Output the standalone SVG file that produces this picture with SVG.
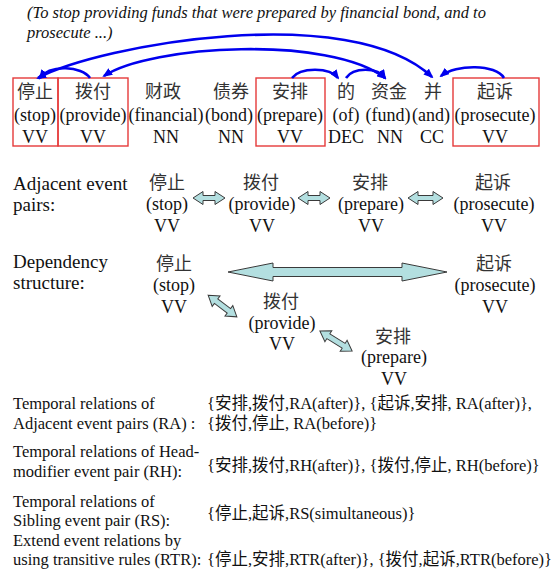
<svg xmlns="http://www.w3.org/2000/svg" width="558" height="572" viewBox="0 0 558 572">
<defs>
<style>
text{font-family:"Liberation Serif","Noto Sans CJK SC",serif;fill:#111}
.tk{font-size:18px;text-anchor:middle}
.zh{font-size:18px;text-anchor:middle;fill:#333}
.lb{font-size:19px}
.sm{font-size:16.5px}
.it{font-size:16.5px;font-style:italic}
.box{fill:none;stroke:#e53a3a;stroke-width:1.4}
.arc{fill:none;stroke:#0000ee;stroke-width:2.6}
.blk{fill:#b3dfe0;stroke:#3a3a3a;stroke-width:1}
</style>
<marker id="ah" viewBox="0 0 10 8" refX="8" refY="4" markerWidth="10" markerHeight="8" markerUnits="userSpaceOnUse" orient="auto-start-reverse">
<path d="M0,0 L10,4 L0,8 z" fill="#0000ee"/>
</marker>
</defs>
<rect width="558" height="572" fill="#fff"/>

<g id="caption">
<text class="it" x="27" y="18">(To stop providing funds that were prepared by financial bond, and to</text>
<text class="it" x="27" y="38">prosecute ...)</text>
</g>

<g id="sentence">
<g id="t-stop"><rect class="box" x="13" y="78" width="45" height="68"/><text class="zh" x="35" y="98">停止</text><text class="tk" x="35" y="121">(stop)</text><text class="tk" x="35" y="143">VV</text></g>
<g id="t-provide"><rect class="box" x="58" y="78" width="70" height="68"/><text class="zh" x="93" y="98">拨付</text><text class="tk" x="93" y="121">(provide)</text><text class="tk" x="93" y="143">VV</text></g>
<g id="t-financial"><text class="zh" x="163" y="98">财政</text><text class="tk" x="166" y="121">(financial)</text><text class="tk" x="166" y="143">NN</text></g>
<g id="t-bond"><text class="zh" x="231" y="98">债券</text><text class="tk" x="229" y="121">(bond)</text><text class="tk" x="231" y="143">NN</text></g>
<g id="t-prepare"><rect class="box" x="256" y="78" width="69" height="68"/><text class="zh" x="290" y="98">安排</text><text class="tk" x="290" y="121">(prepare)</text><text class="tk" x="290" y="143">VV</text></g>
<g id="t-of"><text class="zh" x="346" y="98">的</text><text class="tk" x="346" y="121">(of)</text><text class="tk" x="346" y="143">DEC</text></g>
<g id="t-fund"><text class="zh" x="389" y="98">资金</text><text class="tk" x="388" y="121">(fund)</text><text class="tk" x="390" y="143">NN</text></g>
<g id="t-and"><text class="zh" x="433" y="98">并</text><text class="tk" x="431" y="121">(and)</text><text class="tk" x="432" y="143">CC</text></g>
<g id="t-prosecute"><rect class="box" x="453" y="78" width="86" height="68"/><text class="zh" x="495" y="98">起诉</text><text class="tk" x="495" y="121">(prosecute)</text><text class="tk" x="495" y="143">VV</text></g>
</g>

<g id="labels">
<text class="lb" x="13" y="190">Adjacent event</text>
<text class="lb" x="13" y="211">pairs:</text>
<text class="lb" x="13" y="268">Dependency</text>
<text class="lb" x="13" y="289">structure:</text>
</g>

<g id="adjacent">
<g id="a-stop"><text class="zh" x="167" y="189">停止</text><text class="tk" x="167" y="210">(stop)</text><text class="tk" x="167" y="232">VV</text></g>
<g id="a-provide"><text class="zh" x="261" y="189">拨付</text><text class="tk" x="262" y="210">(provide)</text><text class="tk" x="262" y="232">VV</text></g>
<g id="a-prepare"><text class="zh" x="370" y="189">安排</text><text class="tk" x="371" y="210">(prepare)</text><text class="tk" x="371" y="232">VV</text></g>
<g id="a-prosecute"><text class="zh" x="493" y="189">起诉</text><text class="tk" x="494" y="210">(prosecute)</text><text class="tk" x="494" y="232">VV</text></g>
</g>

<g id="dependency">
<g id="d-stop"><text class="zh" x="174" y="270">停止</text><text class="tk" x="174" y="291">(stop)</text><text class="tk" x="174" y="313">VV</text></g>
<g id="d-prosecute"><text class="zh" x="494" y="270">起诉</text><text class="tk" x="495" y="291">(prosecute)</text><text class="tk" x="495" y="313">VV</text></g>
<g id="d-provide"><text class="zh" x="281" y="308">拨付</text><text class="tk" x="282" y="329">(provide)</text><text class="tk" x="282" y="350">VV</text></g>
<g id="d-prepare"><text class="zh" x="393" y="343">安排</text><text class="tk" x="394" y="363">(prepare)</text><text class="tk" x="394" y="385">VV</text></g>
</g>

<g id="connectors">
<path class="arc" d="M38,78 C100,45 350,0 432,77" marker-start="url(#ah)" marker-end="url(#ah)"/>
<path class="arc" d="M104,76 C150,45 330,35 385,78" marker-start="url(#ah)" marker-end="url(#ah)"/>
<path class="arc" d="M90,78 C82,66 50,64 40,78" marker-end="url(#ah)"/>
<path class="arc" d="M292,78 C300,67 330,67 338,78" marker-end="url(#ah)"/>
<path class="arc" d="M346,78 C353,67 378,67 385,78" marker-end="url(#ah)"/>
<path class="arc" d="M504,78 C496,64 456,64 441,76" marker-end="url(#ah)"/>
<path class="blk" d="M193,198 L203,191.5 L203,195.5 L215,195.5 L215,191.5 L225,198 L215,204.5 L215,200.5 L203,200.5 L203,204.5 Z"/>
<path class="blk" d="M298,198 L308,191.5 L308,195.5 L320,195.5 L320,191.5 L330,198 L320,204.5 L320,200.5 L308,200.5 L308,204.5 Z"/>
<path class="blk" d="M408,198 L418,191.5 L418,195.5 L433,195.5 L433,191.5 L443,198 L433,204.5 L433,200.5 L418,200.5 L418,204.5 Z"/>
<path class="blk" d="M228,272 L273,263 L273,267.5 L402,267.5 L402,263 L447,272 L402,281 L402,276.5 L273,276.5 L273,281 Z"/>
<path class="blk" transform="translate(222.5,306) rotate(37)" d="M-18,0 L-8,-6.5 L-8,-2.8 L8,-2.8 L8,-6.5 L18,0 L8,6.5 L8,2.8 L-8,2.8 L-8,6.5 Z"/>
<path class="blk" transform="translate(336,341) rotate(32)" d="M-19,0 L-9,-6.5 L-9,-2.8 L9,-2.8 L9,-6.5 L19,0 L9,6.5 L9,2.8 L-9,2.8 L-9,6.5 Z"/>
</g>

<g id="relations">
<text class="sm" x="13" y="409">Temporal relations of</text>
<text class="sm" x="13" y="429">Adjacent event pairs (RA) :</text>
<text class="sm" x="207" y="409">{安排,拨付,RA(after)}, {起诉,安排, RA(after)},</text>
<text class="sm" x="207" y="429">{拨付,停止, RA(before)}</text>
<text class="sm" x="13" y="457">Temporal relations of Head-</text>
<text class="sm" x="13" y="477">modifier event pair (RH):</text>
<text class="sm" x="207" y="471">{安排,拨付,RH(after)}, {拨付,停止, RH(before)}</text>
<text class="sm" x="13" y="507">Temporal relations of</text>
<text class="sm" x="13" y="526">Sibling event pair (RS):</text>
<text class="sm" x="207" y="519">{停止,起诉,RS(simultaneous)}</text>
<text class="sm" x="13" y="546">Extend event relations by</text>
<text class="sm" x="13" y="565">using transitive rules (RTR):</text>
<text class="sm" x="207" y="565">{停止,安排,RTR(after)}, {拨付,起诉,RTR(before)}</text>
</g>
</svg>
